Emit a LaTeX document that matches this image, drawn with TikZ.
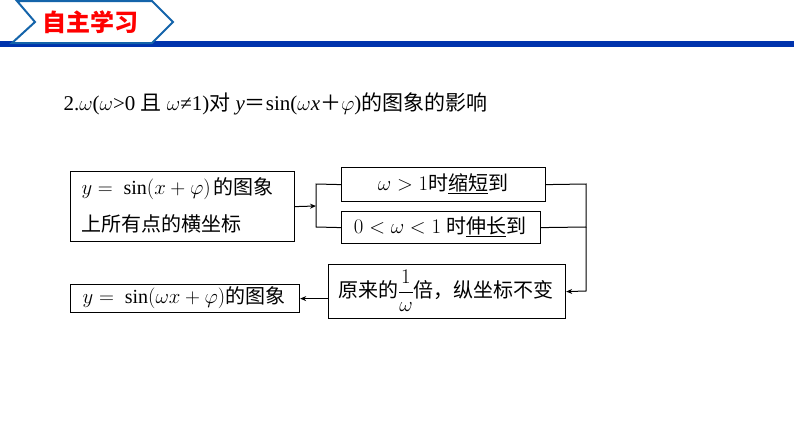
\documentclass[tikz,border=0pt]{standalone}
\usepackage{fontspec}
\setmainfont{Liberation Serif}
\newfontfamily\cjk{Noto Sans CJK SC}
\usetikzlibrary{arrows.meta}
\tikzset{box/.style={draw,line width=1.2pt,inner sep=0pt,anchor=north west},
 conn/.style={line width=1pt},
 arr/.style={line width=1pt,-{Stealth[length=6pt,width=5pt]}}}
\begin{document}
\begin{tikzpicture}[x=1pt,y=-1pt,font=\fontsize{20}{24}\selectfont]
\useasboundingbox[fill=white] (0,0) rectangle (794,447);
% header
\fill[blue!60!black!80!cyan] (0,41) rectangle (794,47);
\draw[line width=2pt,draw={rgb,255:red,20;green,100;blue,170},fill=white] (17,1) -- (152,1) -- (173,22) -- (152,43) -- (12,43) -- (35,22) -- cycle;
\node[text=red,font=\cjk\bfseries\fontsize{24}{26}\selectfont] (hd) at (90,22) {自主学习};
% title
\node[anchor=west,font=\fontsize{21}{24}\selectfont] (title) at (60,104) {2.$\omega$($\omega$>0 {\cjk 且} $\omega$≠1){\cjk 对} \textit{y}{\cjk ＝}sin($\omega$\textit{x}{\cjk ＋}$\varphi$){\cjk 的图象的影响}};
% boxes
\node[box,minimum width=224pt,minimum height=70pt] (b1) at (70,171) {};
\node[anchor=west] at (78,189) {$y=\ \sin(x+\varphi)$\,\cjk 的图象};
\node[anchor=west] at (78,224) {\cjk 上所有点的横坐标};
\node[box,minimum width=204pt,minimum height=34pt] (b2) at (341,167) {};
\node at (443,184) {$\omega>1$\cjk 时\underline{缩短}到};
\node[box,minimum width=199pt,minimum height=32pt] (b3) at (341,211) {};
\node at (440,227) {$0<\omega<1$ \cjk 时\underline{伸长}到};
\node[box,minimum width=237pt,minimum height=54pt] (b4) at (328,264) {};
\node at (446,291) {\cjk 原来的$\displaystyle\frac{1}{\omega}$倍，纵坐标不变};
\node[box,minimum width=229pt,minimum height=28pt] (b5) at (70,284) {};
\node at (184,298) {$y=\ \sin(\omega x+\varphi)$\cjk 的图象};
% connectors
\coordinate (l) at (316,206);
\draw[arr] (b1.east) -- (l);
\draw[conn] (b2.west) -- (316,184) -- (316,227) -- (b3.west);
\draw[conn] (b2.east) -- (586,184) -- (586,227) -- (b3.east);
\draw[arr] (586,227) -- (586,291) -- (b4.east);
\draw[arr] (b4.west|-b5.east) -- (b5.east);
\end{tikzpicture}
\end{document}
